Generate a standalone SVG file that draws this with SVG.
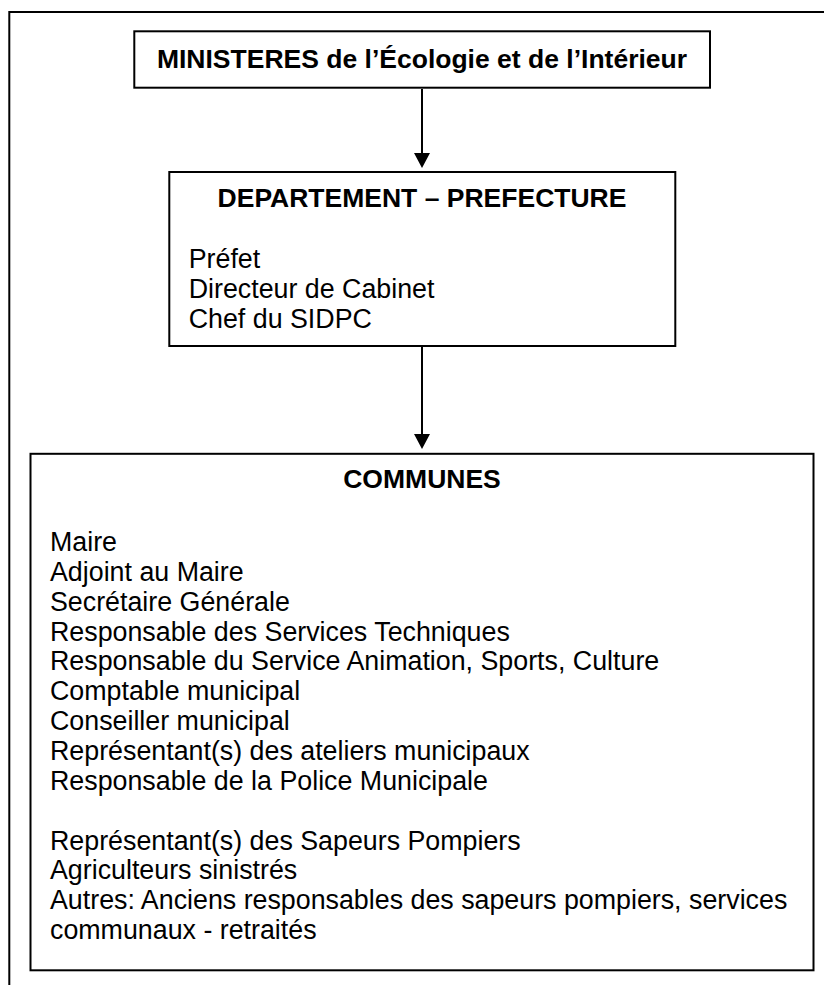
<svg xmlns="http://www.w3.org/2000/svg" width="824" height="985" viewBox="0 0 824 985">
  <defs>
    <style>
      .box { fill: #ffffff; stroke: #000000; stroke-width: 2; }
      .frame { fill: none; stroke: #000000; stroke-width: 2; }
      .conn { fill: none; stroke: #000000; stroke-width: 2; }
      .title { font-family: "Liberation Sans", Arial, sans-serif; font-size: 26.5px; font-weight: bold; fill: #000000; text-anchor: middle; }
      .item { font-family: "Liberation Sans", Arial, sans-serif; font-size: 26.8px; fill: #000000; }
    </style>
    <marker id="arrow" viewBox="0 0 15 16" markerWidth="15" markerHeight="16" refX="10" refY="8" markerUnits="userSpaceOnUse" orient="auto">
      <path d="M0,0 L15,8 L0,16 Z" fill="#000000"/>
    </marker>
  </defs>
  <rect x="0" y="0" width="824" height="985" fill="#ffffff"/>
  <path class="frame" d="M9.3,985 V12 H824"/>

  <g id="connectors">
    <line class="conn" x1="422" y1="89" x2="422" y2="163" marker-end="url(#arrow)"/>
    <line class="conn" x1="422" y1="347" x2="422" y2="444" marker-end="url(#arrow)"/>
  </g>

  <g id="ministeres">
    <rect class="box" x="134.3" y="31.3" width="575.7" height="56.4"/>
    <text class="title" x="422" y="68.3">MINISTERES de l’Écologie et de l’Intérieur</text>
  </g>

  <g id="departement">
    <rect class="box" x="169.3" y="172" width="506" height="174"/>
    <text class="title" x="422" y="206.7">DEPARTEMENT – PREFECTURE</text>
    <text class="item" x="188.7" y="268.3">Préfet</text>
    <text class="item" x="188.7" y="298.3">Directeur de Cabinet</text>
    <text class="item" x="188.7" y="328.3">Chef du SIDPC</text>
  </g>

  <g id="communes">
    <rect class="box" x="30.5" y="453.8" width="783" height="516.5"/>
    <text class="title" x="422" y="488">COMMUNES</text>
    <text class="item" x="50" y="551">Maire</text>
    <text class="item" x="50" y="580.9">Adjoint au Maire</text>
    <text class="item" x="50" y="610.7">Secrétaire Générale</text>
    <text class="item" x="50" y="640.6">Responsable des Services Techniques</text>
    <text class="item" x="50" y="670.4">Responsable du Service Animation, Sports, Culture</text>
    <text class="item" x="50" y="700.3">Comptable municipal</text>
    <text class="item" x="50" y="730.1">Conseiller municipal</text>
    <text class="item" x="50" y="760">Représentant(s) des ateliers municipaux</text>
    <text class="item" x="50" y="789.8">Responsable de la Police Municipale</text>
    <text class="item" x="50" y="849.5">Représentant(s) des Sapeurs Pompiers</text>
    <text class="item" x="50" y="879.4">Agriculteurs sinistrés</text>
    <text class="item" x="50" y="909.2">Autres: Anciens responsables des sapeurs pompiers, services</text>
    <text class="item" x="50" y="939.1">communaux - retraités</text>
  </g>
</svg>
